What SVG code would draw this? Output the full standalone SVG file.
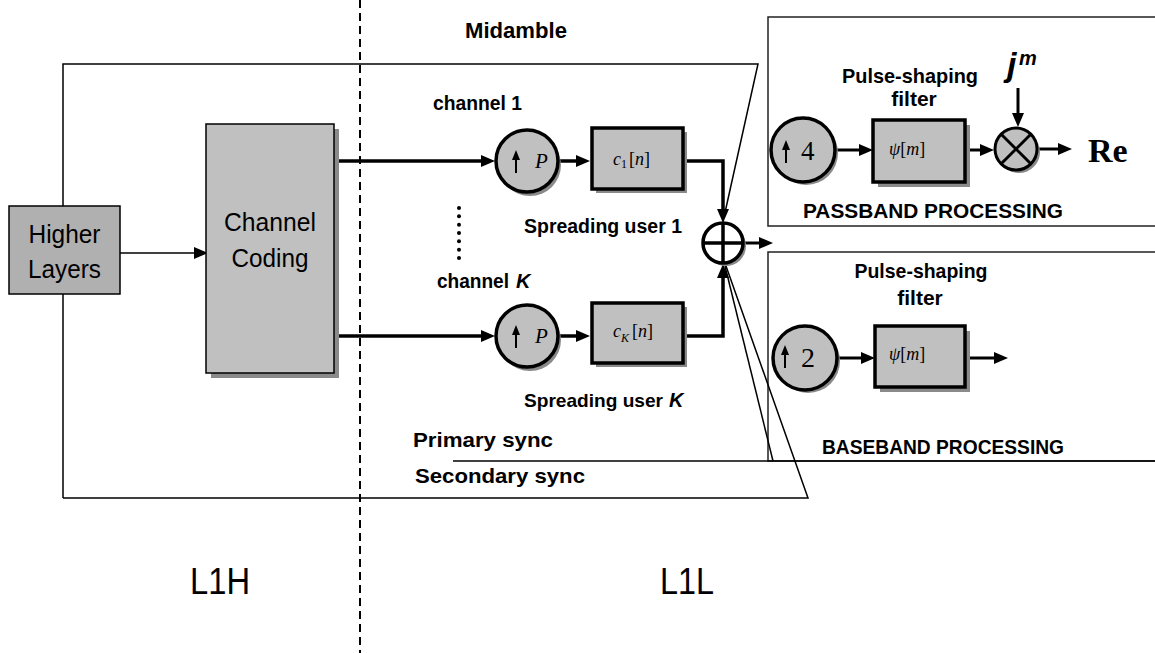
<svg xmlns="http://www.w3.org/2000/svg" width="1155" height="653" viewBox="0 0 1155 653">
<style>
.thin{stroke:#000;stroke-width:1.5;fill:none}
.thick{stroke:#000;stroke-width:3.5;fill:none}
.med{stroke:#000;stroke-width:3;fill:none}
.gbox{fill:#c0c0c0;stroke:#000;stroke-width:3.5}
.shadow{fill:#8a8a8a}
.lbl{font-family:"Liberation Sans",Arial,sans-serif;font-weight:bold;fill:#000}
.reg{font-family:"Liberation Sans",Arial,sans-serif;fill:#000}
.ser{font-family:"Liberation Serif","Times New Roman",serif;fill:#000}
.it{font-style:italic}
.frame{stroke:#222;stroke-width:1.5;fill:none}
</style>
<defs>
<marker id="ah" viewBox="0 0 14 12" refX="8" refY="6" markerWidth="14" markerHeight="12" markerUnits="userSpaceOnUse" orient="auto">
<path d="M0,0 L14,6 L0,12 z" fill="#000"/>
</marker>
</defs>
<rect width="1155" height="653" fill="#fff"/>

<!-- divider -->
<line x1="360" y1="0" x2="360" y2="653" stroke="#000" stroke-width="2" stroke-dasharray="8,5"/>

<!-- processing frames -->
<g id="passband">
<rect class="frame" x="768" y="17" width="420" height="209"/>
<text class="lbl" x="910" y="83" font-size="21" text-anchor="middle" textLength="136" lengthAdjust="spacingAndGlyphs">Pulse-shaping</text>
<text class="lbl" x="914" y="106" font-size="21" text-anchor="middle">filter</text>
<text class="lbl" x="803" y="218" font-size="21" textLength="260" lengthAdjust="spacingAndGlyphs">PASSBAND PROCESSING</text>
</g>
<g id="baseband">
<rect class="frame" x="768" y="252" width="420" height="209"/>
<text class="lbl" x="921" y="278" font-size="21" text-anchor="middle" textLength="133" lengthAdjust="spacingAndGlyphs">Pulse-shaping</text>
<text class="lbl" x="920" y="305" font-size="21" text-anchor="middle">filter</text>
<text class="lbl" x="822" y="454" font-size="21" textLength="242" lengthAdjust="spacingAndGlyphs">BASEBAND PROCESSING</text>
</g>

<!-- connectors -->
<g id="connectors">
<polyline class="thin" points="63,498 63,64 758,64 724,217"/>
<polyline class="thin" points="63,498 808,498 726,266"/>
<polyline class="thin" points="453,461 1160,461"/>
<polyline class="thin" points="773,461 725,266"/>
<line class="thin" x1="120" y1="253" x2="202" y2="253" marker-end="url(#ah)"/>
<line class="thick" x1="339" y1="161" x2="489" y2="161" marker-end="url(#ah)"/>
<line class="thick" x1="559" y1="161" x2="584" y2="161" marker-end="url(#ah)"/>
<path class="thick" d="M683,161 H723 V217" marker-end="url(#ah)"/>
<line class="thick" x1="339" y1="336" x2="489" y2="336" marker-end="url(#ah)"/>
<line class="thick" x1="559" y1="336" x2="584" y2="336" marker-end="url(#ah)"/>
<path class="thick" d="M683,336 H723 V270" marker-end="url(#ah)"/>
<line class="med" x1="743" y1="243" x2="767" y2="243" marker-end="url(#ah)"/>
<line class="med" x1="836" y1="150" x2="867" y2="150" marker-end="url(#ah)"/>
<line class="med" x1="965" y1="150" x2="988" y2="150" marker-end="url(#ah)"/>
<line class="med" x1="1018" y1="88" x2="1018" y2="121" marker-end="url(#ah)"/>
<line class="med" x1="1038" y1="149" x2="1066" y2="149" marker-end="url(#ah)"/>
<line class="med" x1="838" y1="358" x2="869" y2="358" marker-end="url(#ah)"/>
<line class="med" x1="965" y1="358" x2="1002" y2="358" marker-end="url(#ah)"/>
</g>

<!-- nodes -->
<g id="higher-layers">
<rect x="9" y="206" width="111" height="88" fill="#b0b0b0" stroke="#000" stroke-width="1.5"/>
<text class="reg" x="64.5" y="243" font-size="25" text-anchor="middle" textLength="72" lengthAdjust="spacingAndGlyphs">Higher</text>
<text class="reg" x="64.5" y="278" font-size="25" text-anchor="middle" textLength="73" lengthAdjust="spacingAndGlyphs">Layers</text>
</g>

<g id="channel-coding">
<rect class="shadow" x="211" y="129" width="128" height="249"/>
<rect x="206" y="124" width="128" height="249" fill="#c0c0c0" stroke="#000" stroke-width="1.5"/>
<text class="reg" x="270" y="231" font-size="25" text-anchor="middle" textLength="92" lengthAdjust="spacingAndGlyphs">Channel</text>
<text class="reg" x="270" y="267" font-size="25" text-anchor="middle" textLength="77" lengthAdjust="spacingAndGlyphs">Coding</text>
</g>

<g id="labels">
<text class="lbl" x="465" y="38" font-size="22" textLength="102" lengthAdjust="spacingAndGlyphs">Midamble</text>
<text class="lbl" x="433" y="110" font-size="20" textLength="89" lengthAdjust="spacingAndGlyphs">channel 1</text>
<text class="lbl" x="437" y="288" font-size="20" textLength="72" lengthAdjust="spacingAndGlyphs">channel</text>
<text class="lbl it" x="516" y="288" font-size="20">K</text>
<text class="lbl" x="524" y="233" font-size="20" textLength="158" lengthAdjust="spacingAndGlyphs">Spreading user 1</text>
<text class="lbl" x="524" y="407" font-size="19" textLength="139" lengthAdjust="spacingAndGlyphs">Spreading user</text>
<text class="lbl it" x="669" y="407" font-size="20">K</text>
<text class="lbl" x="413" y="447" font-size="21" textLength="140" lengthAdjust="spacingAndGlyphs">Primary sync</text>
<text class="lbl" x="415" y="483" font-size="21" textLength="170" lengthAdjust="spacingAndGlyphs">Secondary sync</text>
<text class="reg" x="190" y="594" font-size="36" textLength="60" lengthAdjust="spacingAndGlyphs">L1H</text>
<text class="reg" x="660" y="594" font-size="36" textLength="54" lengthAdjust="spacingAndGlyphs">L1L</text>
</g>

<g id="dots" fill="#000">
<circle cx="459" cy="208" r="2"/><circle cx="459" cy="216.3" r="2"/><circle cx="459" cy="224.7" r="2"/><circle cx="459" cy="233" r="2"/><circle cx="459" cy="241.3" r="2"/><circle cx="459" cy="249.7" r="2"/><circle cx="459" cy="258" r="2"/>
</g>

<g id="upsample-1">
<circle class="shadow" cx="530" cy="165" r="31"/>
<circle cx="527" cy="161" r="31" fill="#c0c0c0" stroke="#000" stroke-width="3.5"/>
<line x1="516" y1="173" x2="516" y2="157" stroke="#000" stroke-width="2"/>
<path d="M512,160 L516,150 L520,160 z" fill="#000"/>
<text class="ser it" x="535" y="168" font-size="21">P</text>
</g>
<g id="spread-1">
<rect class="shadow" x="596" y="132" width="91" height="61"/>
<rect class="gbox" x="592" y="128" width="91" height="61"/>
<text class="ser" x="613" y="165" font-size="18"><tspan class="it">c</tspan><tspan font-size="12" dy="3">1</tspan><tspan dy="-3" dx="2">[</tspan><tspan class="it">n</tspan>]</text>
</g>

<g id="upsample-K">
<circle class="shadow" cx="530" cy="340" r="31"/>
<circle cx="527" cy="336" r="31" fill="#c0c0c0" stroke="#000" stroke-width="3.5"/>
<line x1="516" y1="348" x2="516" y2="332" stroke="#000" stroke-width="2"/>
<path d="M512,335 L516,325 L520,335 z" fill="#000"/>
<text class="ser it" x="535" y="343" font-size="21">P</text>
</g>
<g id="spread-K">
<rect class="shadow" x="596" y="307" width="91" height="60"/>
<rect class="gbox" x="592" y="303" width="91" height="60"/>
<text class="ser" x="613" y="337" font-size="18"><tspan class="it">c</tspan><tspan class="it" font-size="12" dy="5">K</tspan><tspan dy="-5" dx="3">[</tspan><tspan class="it">n</tspan>]</text>
</g>

<g id="adder">
<circle class="shadow" cx="726" cy="246" r="20"/>
<circle cx="723" cy="243" r="20" fill="#fff" stroke="#000" stroke-width="3.5"/>
<line x1="703" y1="243" x2="743" y2="243" stroke="#000" stroke-width="3.5"/>
<line x1="723" y1="223" x2="723" y2="263" stroke="#000" stroke-width="3.5"/>
</g>

<g id="upsample-4">
<circle class="shadow" cx="806" cy="153" r="32"/>
<circle cx="803" cy="150" r="32" fill="#c0c0c0" stroke="#000" stroke-width="3.5"/>
<line x1="786" y1="163" x2="786" y2="147" stroke="#000" stroke-width="2"/>
<path d="M782,150 L786,140 L790,150 z" fill="#000"/>
<text class="ser" x="801" y="160" font-size="27">4</text>
</g>
<g id="psf-passband">
<rect class="shadow" x="878" y="125" width="92" height="62"/>
<rect class="gbox" x="873" y="120" width="92" height="62"/>
<text class="ser" x="889" y="155" font-size="18"><tspan class="it">ψ</tspan>[<tspan class="it">m</tspan>]</text>
</g>
<g id="mixer">
<circle class="shadow" cx="1019" cy="152" r="21"/>
<circle cx="1016" cy="149" r="21" fill="#c0c0c0" stroke="#000" stroke-width="3"/>
<line x1="1001.2" y1="134.2" x2="1030.8" y2="163.8" stroke="#000" stroke-width="3"/>
<line x1="1030.8" y1="134.2" x2="1001.2" y2="163.8" stroke="#000" stroke-width="3"/>
<text x="1007" y="76" font-family="Liberation Sans,Arial,sans-serif" font-weight="bold" font-style="italic" font-size="34">j</text>
<text x="1019" y="65" font-family="Liberation Sans,Arial,sans-serif" font-weight="bold" font-style="italic" font-size="20">m</text>
<text class="ser" x="1088" y="162" font-size="34" font-weight="bold">Re</text>
</g>

<g id="upsample-2">
<circle class="shadow" cx="808" cy="361" r="32"/>
<circle cx="805" cy="358" r="32" fill="#c0c0c0" stroke="#000" stroke-width="3.5"/>
<line x1="785" y1="368" x2="785" y2="352" stroke="#000" stroke-width="2"/>
<path d="M781,355 L785,345 L789,355 z" fill="#000"/>
<text class="ser" x="801" y="367" font-size="28">2</text>
</g>
<g id="psf-baseband">
<rect class="shadow" x="880" y="331" width="90" height="61"/>
<rect class="gbox" x="875" y="326" width="90" height="61"/>
<text class="ser" x="889" y="360" font-size="18"><tspan class="it">ψ</tspan>[<tspan class="it">m</tspan>]</text>
</g>
</svg>
